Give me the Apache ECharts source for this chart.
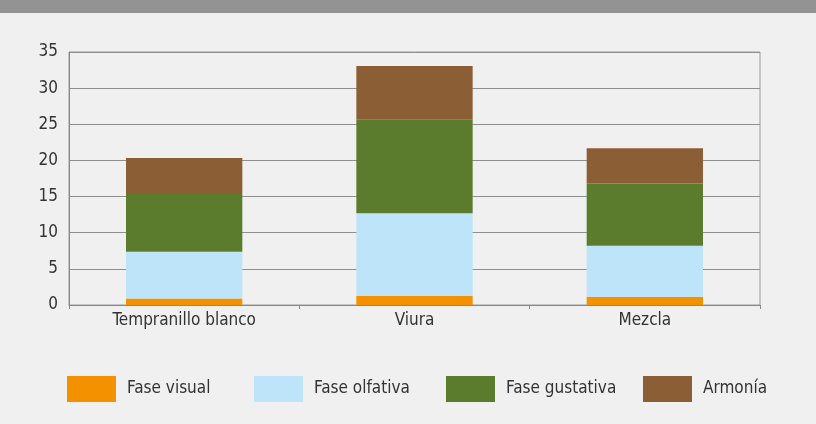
<!DOCTYPE html>
<html>
<head>
<meta charset="utf-8">
<script src="https://cdn.jsdelivr.net/npm/echarts@6/dist/echarts.min.js"></script>
<style>
  html, body { margin: 0; padding: 0; background: #eff0ef; }
  #chart { width: 816px; height: 424px; }
</style>
</head>
<body>
<div id="chart"></div>
<script>
// datos
var categories = ['Tempranillo blanco', 'Viura', 'Mezcla'];
var faseVisual = [0.9, 1.25, 1.15];
var faseOlfativa = [6.45, 11.45, 7.05];
var faseGustativa = [8.0, 13.0, 8.6];
var armonia = [5.0, 7.35, 4.9];
var yTicks = [0, 5, 10, 15, 20, 25, 30, 35];

var seriesNames = ['Fase visual', 'Fase olfativa', 'Fase gustativa', 'Armonía'];
var seriesData = [faseVisual, faseOlfativa, faseGustativa, armonia];
var colors = ['#f39100', '#bde4f8', '#5b7c2d', '#8c5e35'];
var legendLeft = [67, 254, 446, 643]; // posicion de cada leyenda

var font = '"Liberation Sans Narrow", "DejaVu Sans Condensed", sans-serif';

var chart = echarts.init(document.getElementById('chart'));

chart.setOption({
  backgroundColor: '#eff0ef',
  animation: false,
  color: colors,
  graphic: [
    { // franja gris superior
      type: 'rect',
      left: 0, top: 0,
      shape: { width: 816, height: 13 },
      style: { fill: '#939393' }
    }
  ],
  grid: {
    left: 69, right: 56, top: 52, bottom: 119,
    show: true,
    borderColor: '#9a9a9a',
    borderWidth: 1,
    backgroundColor: 'transparent'
  },
  legend: seriesNames.map(function (n, i) {
    return {
      data: [n],
      left: legendLeft[i],
      top: 376,
      padding: 0,
      itemWidth: 49,
      itemHeight: 26,
      itemGap: 0,
      icon: 'rect',
      selectedMode: false,
      textStyle: { fontFamily: font, fontSize: 17, color: '#333', padding: [0, 0, 0, 6] }
    };
  }),
  xAxis: {
    type: 'category',
    data: categories,
    axisLine: { lineStyle: { color: '#888', width: 1 } },
    axisTick: { show: true, length: 4, lineStyle: { color: '#888' } },
    axisLabel: { fontFamily: font, fontSize: 17, color: '#333', margin: 7 }
  },
  yAxis: {
    type: 'value',
    min: yTicks[0],
    max: yTicks[yTicks.length - 1],
    interval: 5,
    axisLine: { show: true, lineStyle: { color: '#888', width: 1 } },
    axisTick: { show: false },
    axisLabel: { fontFamily: font, fontSize: 17, color: '#333', margin: 11 },
    splitLine: { lineStyle: { color: '#8f8f8f', width: 1 } }
  },
  series: seriesNames.map(function (n, i) {
    return {
      name: n,
      type: 'bar',
      stack: 'total',
      barWidth: '50.5%',
      data: seriesData[i],
      itemStyle: { color: colors[i] }
    };
  })
});
</script>
</body>
</html>
